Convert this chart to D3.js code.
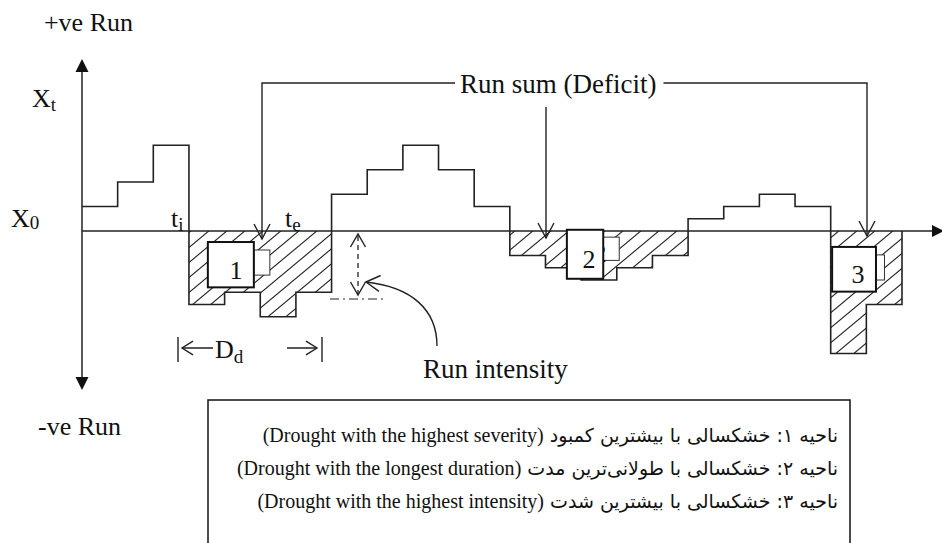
<!DOCTYPE html>
<meta charset="utf-8">
<script src="https://d3js.org/d3.v7.min.js"></script>
<style>
  body { margin: 0; background: #fff; }
  text { font-family: "Liberation Serif", "Times New Roman", serif; fill: #111; }
</style>
<div id="my_dataviz"></div>
<script>

// run series: value of X_t - X_0 for each time step (arbitrary units)
const steps = [2, 4, 7, -6, -5, -7, -5, 3, 5, 7, 5, 2, -2, -3, -4, -3, -2, 1, 2, 3, 2, -10, -6];

// labels
const yLabels = ["+ve Run", "-ve Run"];
const legendFa = [
  "ناحیه ۱: خشکسالی با بیشترین کمبود ",
  "ناحیه ۲: خشکسالی با طولانی‌ترین مدت ",
  "ناحیه ۳: خشکسالی با بیشترین شدت "
];
const legendEn = [
  "(Drought with the highest severity)",
  "(Drought with the longest duration)",
  "(Drought with the highest intensity)"
];
const regionNames = ["1", "2", "3"];

const width = 942, height = 543;

const svg = d3.select("#my_dataviz")
  .append("svg")
    .attr("width", width)
    .attr("height", height);

svg.append("rect").attr("width", width).attr("height", height).attr("fill", "#fff");

// scales
const x = d3.scaleLinear().domain([0, steps.length]).range([82, 902]);
const y = d3.scaleLinear().domain([-10, 7]).range([353.5, 145.25]);

const pts = steps.map((v, i) => [i, v]);
pts.push([steps.length, steps[steps.length - 1]]);

// hatch pattern
const defs = svg.append("defs");
const pat = defs.append("pattern")
  .attr("id", "hatch")
  .attr("patternUnits", "userSpaceOnUse")
  .attr("width", 18)
  .attr("height", 15);
pat.append("path")
  .attr("d", "M0,15 L18,0 M-3,2.5 L3,-2.5 M15,17.5 L21,12.5")
  .attr("stroke", "#222")
  .attr("stroke-width", 1.1);

// hatched deficit areas
const area = d3.area()
  .curve(d3.curveStepAfter)
  .x(d => x(d[0]))
  .y0(y(0))
  .y1(d => y(Math.min(d[1], 0)));
svg.append("path")
  .datum(pts)
  .attr("d", area)
  .attr("fill", "url(#hatch)");

// baseline X0 (time axis)
svg.append("line")
  .attr("x1", x(0)).attr("x2", 932)
  .attr("y1", y(0)).attr("y2", y(0))
  .attr("stroke", "#222").attr("stroke-width", 1.5);
svg.append("path")
  .attr("d", `M932,${y(0) - 6} L944,${y(0)} L932,${y(0) + 6} Z`)
  .attr("fill", "#111");

// vertical axis with two arrows
svg.append("line")
  .attr("x1", x(0)).attr("x2", x(0))
  .attr("y1", 70).attr("y2", 378)
  .attr("stroke", "#222").attr("stroke-width", 1.5);
svg.append("path").attr("d", `M${x(0) - 6.5},72 L${x(0)},59 L${x(0) + 6.5},72 Z`).attr("fill", "#111");
svg.append("path").attr("d", `M${x(0) - 6.5},377 L${x(0)},390 L${x(0) + 6.5},377 Z`).attr("fill", "#111");

// step line
const line = d3.line()
  .curve(d3.curveStepAfter)
  .x(d => x(d[0]))
  .y(d => y(d[1]));
svg.append("path")
  .datum(pts.concat([[steps.length, 0]]))
  .attr("d", line)
  .attr("fill", "none")
  .attr("stroke", "#222")
  .attr("stroke-width", 1.6);

// open chevron arrow head
function chevron(tx, ty, ang, len = 17, spread = 28) {
  const a1 = (ang + 180 - spread) * Math.PI / 180;
  const a2 = (ang + 180 + spread) * Math.PI / 180;
  svg.append("path")
    .attr("d", `M${tx + len * Math.cos(a1)},${ty + len * Math.sin(a1)} L${tx},${ty} L${tx + len * Math.cos(a2)},${ty + len * Math.sin(a2)}`)
    .attr("fill", "none").attr("stroke", "#222").attr("stroke-width", 1.4);
}

// region boxes
function box(x0, x1, y0, y1, tab, label, lx, ly) {
  svg.append("rect")
    .attr("x", x(x1)).attr("y", y(tab[0]))
    .attr("width", tab[2]).attr("height", y(tab[1]) - y(tab[0]))
    .attr("fill", "#fff").attr("stroke", "#333").attr("stroke-width", 1);
  svg.append("rect")
    .attr("x", x(x0)).attr("y", y(y0))
    .attr("width", x(x1) - x(x0)).attr("height", y(y1) - y(y0))
    .attr("fill", "#fff").attr("stroke", "#111").attr("stroke-width", 2);
  svg.append("text")
    .attr("x", lx).attr("y", ly)
    .attr("text-anchor", "middle")
    .style("font-size", "26px")
    .text(label);
}
box(3.53, 4.82, -0.9, -4.6, [-1.55, -3.6, 16], regionNames[0], 236, 279);

// box 2 has a stray "2" peeking out of its tab
svg.append("rect")
  .attr("x", x(14.62)).attr("y", y(-0.5))
  .attr("width", 16).attr("height", y(-2.4) - y(-0.5))
  .attr("fill", "#fff").attr("stroke", "#333").attr("stroke-width", 1);
svg.append("text").attr("x", 600).attr("y", 262).attr("text-anchor", "middle")
  .style("font-size", "26px").text(regionNames[1]);
svg.append("rect")
  .attr("x", x(13.6)).attr("y", y(0.1))
  .attr("width", x(14.62) - x(13.6)).attr("height", y(-3.9) - y(0.1))
  .attr("fill", "#fff").attr("stroke", "#111").attr("stroke-width", 2);
svg.append("text").attr("x", 589).attr("y", 268).attr("text-anchor", "middle")
  .style("font-size", "26px").text(regionNames[1]);

box(21.04, 22.27, -1.3, -4.95, [-1.95, -4.0, 8.5], regionNames[2], 858, 283);

// "Run sum (Deficit)" callout
const lineY = 83;
const rs = svg.append("text")
  .attr("x", 460).attr("y", 93)
  .style("font-size", "27px")
  .text("Run sum (Deficit)");
const rsEnd = 460 + rs.node().getComputedTextLength();
const leftX = 262, midX = 546, rightX = 867;
svg.append("path")
  .attr("d", `M${leftX},239 V${lineY} H455 M${rsEnd + 7},${lineY} H${rightX} V236 M${midX},107 V238`)
  .attr("fill", "none").attr("stroke", "#222").attr("stroke-width", 1.4);
chevron(leftX, 239, 90);
chevron(midX, 238, 90);
chevron(rightX, 236, 90);

// axis labels
svg.append("text").attr("x", 133).attr("y", 31).attr("text-anchor", "end")
  .style("font-size", "26px").text(yLabels[0]);
svg.append("text").attr("x", 38).attr("y", 435).style("font-size", "26px").text(yLabels[1]);

function subLabel(tx, ty, main, sub, dy = 4) {
  const t = svg.append("text").attr("x", tx).attr("y", ty).style("font-size", "26px");
  t.append("tspan").text(main);
  t.append("tspan").attr("dy", dy).style("font-size", "19px").text(sub);
}
subLabel(32, 107, "X", "t");
subLabel(11, 227, "X", "0", 2);
subLabel(171, 227, "t", "i");
subLabel(285, 227, "t", "e");

// duration D_d
const dY = 348;
svg.append("path")
  .attr("d", `M178,337 V362 M322,337 V362 M182,${dY} H213 M287,${dY} H317`)
  .attr("fill", "none").attr("stroke", "#222").attr("stroke-width", 1.4);
chevron(182, dY, 180, 13, 32);
chevron(317, dY, 0, 13, 32);
subLabel(215, 358, "D", "d", 5);

// run intensity
svg.append("path")
  .attr("d", `M358,236 V294`)
  .attr("stroke", "#222").attr("stroke-width", 1.3).attr("stroke-dasharray", "5,4");
chevron(358, 234, -90, 15, 30);
chevron(358, 295, 90, 15, 30);
svg.append("path")
  .attr("d", `M330,299 H383`)
  .attr("stroke", "#222").attr("stroke-width", 1.2).attr("stroke-dasharray", "9,4,2,4");
svg.append("path")
  .attr("d", "M437,346 C437,310 412,287 366,282")
  .attr("fill", "none").attr("stroke", "#222").attr("stroke-width", 1.4);
chevron(366, 282, 186, 16, 30);
svg.append("text").attr("x", 423).attr("y", 378).style("font-size", "27px").text("Run intensity");

// legend box
svg.append("rect")
  .attr("x", 208).attr("y", 400)
  .attr("width", 642).attr("height", 170)
  .attr("fill", "none").attr("stroke", "#111").attr("stroke-width", 1.5);
const leg = svg.selectAll(".leg")
  .data(legendFa)
  .join("text")
    .attr("class", "leg")
    .attr("x", 838)
    .attr("y", (d, i) => 442 + i * 33)
    .attr("direction", "rtl")
    .attr("text-anchor", "start");
leg.append("tspan")
  .style("font-family", "'DejaVu Sans', sans-serif")
  .style("font-size", "19px")
  .text(d => d);
leg.append("tspan")
  .style("font-size", "20px")
  .text((d, i) => legendEn[i]);

</script>
